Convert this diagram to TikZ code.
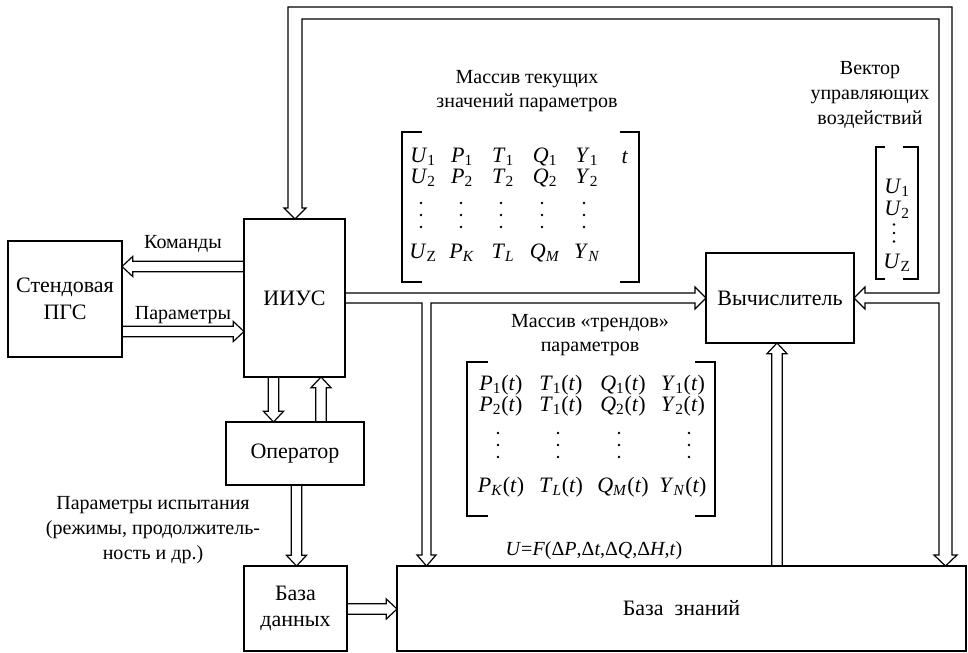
\documentclass[tikz,border=0pt]{standalone}
\usepackage{fontspec}
\setmainfont{Liberation Serif}
\usetikzlibrary{calc}
\newcommand\bxfont{\fontsize{16.5}{20}\selectfont}
\newcommand\lbfont{\fontsize{15}{18.5}\selectfont}
\newcommand\enfont{\fontsize{16.5}{19}\selectfont}
\newcommand\en[2]{\textit{#1}\textsubscript{#2}}
\def\ag{4pt}\def\af{7.5pt}\def\al{8pt}
\newcommand\harr[2]{\draw[ar] let \p1=#1, \p2=#2, \n1={(\x2>\x1)?1:-1}, \n2={\x2-\n1*\al} in
 (\x1,{\y1+\ag}) -- (\n2,{\y1+\ag}) -- (\n2,{\y1+\af}) -- (\x2,\y1)
 -- (\n2,{\y1-\af}) -- (\n2,{\y1-\ag}) -- (\x1,{\y1-\ag});}
\newcommand\varr[2]{\draw[ar] let \p1=#1, \p2=#2, \n1={(\y2>\y1)?1:-1}, \n2={\y2-\n1*\al} in
 ({\x1+\ag},\y1) -- ({\x1+\ag},\n2) -- ({\x1+\af},\n2) -- (\x1,\y2)
 -- ({\x1-\af},\n2) -- ({\x1-\ag},\n2) -- ({\x1-\ag},\y1);}
% column of three dots: x, middle y, spacing (px)
\newcommand\dotcol[3]{\fill (#1,#2-#3) circle[radius=0.95pt] (#1,#2) circle[radius=0.95pt] (#1,#2+#3) circle[radius=0.95pt];}
\tikzset{
  box/.style={draw, line width=1.5pt, inner sep=0pt, outer sep=0pt, align=center, font=\bxfont},
  lbl/.style={inner sep=0pt, align=center, font=\lbfont},
  ent/.style={inner sep=0pt, font=\enfont},
  ar/.style={line width=0.9pt, line join=miter},
  brk/.style={line width=1.5pt},
}
\begin{document}
\begin{tikzpicture}[x=0.75pt,y=-0.75pt]
\fill[white] (0,0) rectangle (968,653);
\useasboundingbox (0,0) rectangle (968,653);
% blocks
\node[box, minimum width=85.5pt, minimum height=87pt] (stend) at (65,299) {Стендовая\\ПГС};
\node[box, minimum width=75.75pt, minimum height=118.5pt] (iius) at (294.5,298) {ИИУС};
\node[box, minimum width=111pt, minimum height=67.5pt] (vych) at (780,298) {Вычислитель};
\node[box, minimum width=103.5pt, minimum height=47.25pt] (oper) at (295,453.5) {Оператор};
\node[box, minimum width=77.25pt, minimum height=63.75pt] (bd) at (295.5,608.5) {База\\данных};
\node[box, minimum width=426.75pt, minimum height=63.75pt] (bz) at (681.5,608.5) {База\ \ знаний};
% reference levels
\coordinate (yCmd) at (0,266.5);
\coordinate (yPar) at (0,331.5);
\coordinate (yBB) at (0,609);
\coordinate (xDn) at (273.5,0);
\coordinate (xUp) at (321,0);
\coordinate (xOB) at (296.5,0);
\coordinate (xBV) at (777,0);
% simple arrows
\harr{(iius.west |- yCmd)}{(stend.east |- yCmd)}
\harr{(stend.east |- yPar)}{(iius.west |- yPar)}
\varr{(iius.south -| xDn)}{(oper.north -| xDn)}
\varr{(oper.north -| xUp)}{(iius.south -| xUp)}
\varr{(oper.south -| xOB)}{(bd.north -| xOB)}
\harr{(bd.east |- yBB)}{(bz.west |- yBB)}
\varr{(bz.north -| xBV)}{(vych.south -| xBV)}
% IIUS -> Vychislitel with branch to knowledge base
\draw[ar] (345,293) -- (695,293) -- (695,287) -- (706,298) -- (695,309) -- (695,303)
  -- (431,303) -- (431,555) -- (436,555) -- (426.5,566) -- (417,555) -- (422,555)
  -- (422,303) -- (345,303);
% big feedback bus
\draw[ar] (288,208) -- (288,7) -- (952,7) -- (952,555) -- (957,555) -- (945.5,566)
  -- (934,555) -- (939,555) -- (939,303) -- (865,303) -- (865,309) -- (854,298)
  -- (865,287) -- (865,293) -- (939,293) -- (939,19) -- (302,19) -- (302,208)
  -- (306,208) -- (295,219) -- (284,208) -- cycle;
% labels
\node[lbl] (lk) at (183,244) {Команды};
\node[lbl] (lp) at (183,315) {Параметры};
\node[lbl] (lpi) at (153,530) {Параметры испытания\\(режимы, продолжитель-\\ность и др.)};
\node[lbl] (t1) at (527,91) {Массив текущих\\значений параметров};
\node[lbl] (t2) at (870,95) {Вектор\\управляющих\\воздействий};
\node[lbl] (t3) at (590,335) {Массив «трендов»\\параметров};
\node[lbl] (fm) at (594,551) {\textit{U}=\textit{F}(Δ\textit{P},Δ\textit{t},Δ\textit{Q},Δ\textit{H},\textit{t})};
% matrix 1
\draw[brk] (422,132) -- (402,132) -- (402,282) -- (422,282);
\draw[brk] (620,132) -- (639,132) -- (639,282) -- (620,282);
\foreach \x/\t [count=\i] in {423/\en{U}{1},462/\en{P}{1},503/\en{T}{1},545/\en{Q}{1},587/\en{Y}{1},625/\textit{t}}
  {\node[ent] (ma\i) at (\x,157) {\t};}
\foreach \x/\t [count=\i] in {423/\en{U}{2},462/\en{P}{2},503/\en{T}{2},545/\en{Q}{2},587/\en{Y}{2}}
  {\node[ent] (mb\i) at (\x,178) {\t};}
\foreach \x in {421,461,501,542,584}
  {\dotcol{\x}{215}{12}}
\foreach \x/\t [count=\i] in {423/\en{U}{Z},462/\en{P}{\textit{K}},503/\en{T}{\textit{L}},545/\en{Q}{\textit{M}},587/\en{Y}{\textit{N}}}
  {\node[ent] (md\i) at (\x,253) {\t};}
% vector
\draw[brk] (885,147) -- (876,147) -- (876,279) -- (885,279);
\draw[brk] (903,147) -- (918,147) -- (918,279) -- (903,279);
\node[ent] (v1) at (897,188) {\en{U}{1}};
\node[ent] (v2) at (897,210) {\en{U}{2}};
\dotcol{894}{233}{8.5}
\node[ent] (v4) at (897,263) {\en{U}{Z}};
% trends matrix
\draw[brk] (488,362) -- (467,362) -- (467,516) -- (488,516);
\draw[brk] (695,362) -- (715,362) -- (715,516) -- (695,516);
\foreach \x/\t [count=\i] in {501/\en{P}{1}(\textit{t}),561/\en{T}{1}(\textit{t}),623/\en{Q}{1}(\textit{t}),683/\en{Y}{1}(\textit{t})}
  {\node[ent] (ta\i) at (\x,385) {\t};}
\foreach \x/\t [count=\i] in {501/\en{P}{2}(\textit{t}),561/\en{T}{1}(\textit{t}),623/\en{Q}{2}(\textit{t}),683/\en{Y}{2}(\textit{t})}
  {\node[ent] (tb\i) at (\x,406) {\t};}
\foreach \x in {498,558,619,689}
  {\dotcol{\x}{445}{12}}
\foreach \x/\t [count=\i] in {501/\en{P}{\textit{K}}(\textit{t}),561/\en{T}{\textit{L}}(\textit{t}),623/\en{Q}{\textit{M}}(\textit{t}),683/\en{Y}{\textit{N}}(\textit{t})}
  {\node[ent] (td\i) at (\x,487) {\t};}
\end{tikzpicture}
\end{document}
